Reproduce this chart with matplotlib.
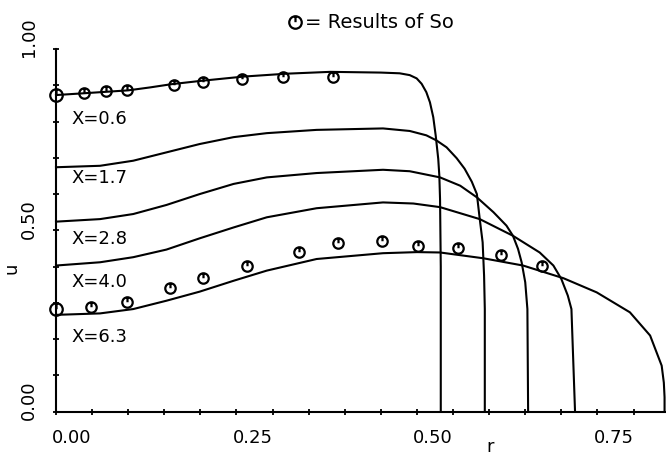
import matplotlib.pyplot as plt
from matplotlib.path import Path
import numpy as np

r_06 = [0.0, 0.039, 0.10, 0.13, 0.16, 0.20, 0.26, 0.32, 0.38, 0.45, 0.476, 0.490, 0.4996,
        0.5065, 0.513, 0.518, 0.5226, 0.526, 0.5295, 0.531, 0.532, 0.533, 0.533]
u_06 = [0.873, 0.878, 0.886, 0.894, 0.903, 0.912, 0.924, 0.932, 0.937, 0.935, 0.933, 0.928,
        0.919, 0.904, 0.881, 0.853, 0.812, 0.761, 0.697, 0.651, 0.586, 0.40, 0.0]

r_17 = [0.0, 0.061, 0.107, 0.153, 0.199, 0.246, 0.292, 0.361, 0.453, 0.490, 0.513,
        0.527, 0.541, 0.555, 0.566, 0.576, 0.583, 0.587, 0.591, 0.593, 0.594, 0.594]
u_17 = [0.674, 0.678, 0.692, 0.715, 0.738, 0.757, 0.768, 0.777, 0.781, 0.774, 0.762,
        0.748, 0.729, 0.699, 0.670, 0.634, 0.600, 0.531, 0.467, 0.375, 0.283, 0.0]

r_28 = [0.0, 0.061, 0.107, 0.153, 0.199, 0.246, 0.292, 0.361, 0.453, 0.490, 0.532, 0.560,
        0.583, 0.606, 0.624, 0.633, 0.640, 0.645, 0.650, 0.653, 0.654]
u_28 = [0.524, 0.531, 0.545, 0.570, 0.600, 0.628, 0.646, 0.658, 0.667, 0.663, 0.646, 0.623,
        0.591, 0.550, 0.513, 0.485, 0.449, 0.412, 0.357, 0.283, 0.0]

r_40 = [0.0, 0.061, 0.107, 0.153, 0.199, 0.246, 0.292, 0.361, 0.453, 0.495, 0.532, 0.587,
        0.633, 0.670, 0.689, 0.700, 0.709, 0.714, 0.719]
u_40 = [0.403, 0.412, 0.426, 0.447, 0.478, 0.508, 0.536, 0.561, 0.577, 0.574, 0.564, 0.531,
        0.485, 0.439, 0.403, 0.366, 0.320, 0.283, 0.0]

r_63 = [0.0, 0.061, 0.107, 0.153, 0.199, 0.246, 0.292, 0.361, 0.453, 0.500, 0.532, 0.592,
        0.647, 0.703, 0.749, 0.795, 0.823, 0.839, 0.842, 0.843, 0.843]
u_63 = [0.267, 0.271, 0.283, 0.306, 0.331, 0.361, 0.389, 0.421, 0.437, 0.440, 0.439, 0.423,
        0.403, 0.368, 0.329, 0.274, 0.210, 0.127, 0.08, 0.04, 0.0]

# results of So
so_r_top = [0.0, 0.039, 0.069, 0.099, 0.164, 0.204, 0.258, 0.315, 0.384]
so_u_top = [0.872, 0.878, 0.883, 0.887, 0.901, 0.908, 0.918, 0.922, 0.922]
so_r_bot = [0.0, 0.048, 0.099, 0.158, 0.204, 0.264, 0.336, 0.391, 0.451, 0.502, 0.557, 0.617, 0.673]
so_u_bot = [0.283, 0.290, 0.303, 0.340, 0.370, 0.401, 0.439, 0.465, 0.471, 0.458, 0.452, 0.432, 0.401]

curve_labels = ['X=0.6', 'X=1.7', 'X=2.8', 'X=4.0', 'X=6.3']
label_u = [0.81, 0.646, 0.479, 0.361, 0.21]

xticks = [0.0, 0.25, 0.50, 0.75]
yticks = [0.0, 0.5, 1.0]

plt.rcParams['font.family'] = 'DejaVu Sans'

# circle with a little stroke at the top, like the plotter symbol
circ = Path.unit_circle()
stroke = Path([[0, 1.0], [0, 0.05]], [Path.MOVETO, Path.LINETO])
so_marker = Path.make_compound_path(circ, stroke)

fig = plt.figure(figsize=(6.66, 4.56), dpi=100)
ax = fig.add_axes([56/666, 43.3/456, 610/666, 362.7/456])

for r, u in [(r_06, u_06), (r_17, u_17), (r_28, u_28), (r_40, u_40), (r_63, u_63)]:
    ax.plot(r, u, color='black', lw=1.5, clip_on=False, solid_joinstyle='round')

for r, u in [(so_r_top, so_u_top), (so_r_bot, so_u_bot)]:
    ax.plot(r[1:], u[1:], ls='none', marker=so_marker, ms=7.5, mfc='none',
            mec='black', mew=1.6, clip_on=False)
    ax.plot(r[:1], u[:1], ls='none', marker=so_marker, ms=9, mfc='none',
            mec='black', mew=1.6, clip_on=False, zorder=5)

for lab, u in zip(curve_labels, label_u):
    ax.text(0.021, u, lab, fontsize=13, ha='left', va='center')

ax.set_xlim(0, 0.845)
ax.set_ylim(0, 1.0)
ax.spines['top'].set_visible(False)
ax.spines['right'].set_visible(False)
ax.spines['left'].set_bounds(0, 1.0)
ax.spines['left'].set_linewidth(1.5)
ax.spines['bottom'].set_linewidth(1.5)

ax.set_xticks(np.arange(0, 0.801, 0.05), labels=[])
ax.set_yticks(np.arange(0, 1.001, 0.1), labels=[])
ax.tick_params(direction='inout', length=5, width=1.3)

for t in xticks:
    ax.annotate('%.2f' % t, xy=(t, 0), xytext=(11.5, -18), textcoords='offset points',
                ha='center', va='center', fontsize=13, annotation_clip=False)
for t in yticks:
    ax.annotate('%.2f' % t, xy=(0, t), xytext=(-19.5, 9), textcoords='offset points',
                ha='center', va='center', fontsize=13, rotation=90, annotation_clip=False)

fig.text(490/666, 1 - 447/456, 'r', fontsize=13, ha='center', va='center')
fig.text(12/666, 1 - 268/456, 'u', fontsize=13, ha='center', va='center', rotation=90)

# legend line at the top
fig.lines.append(plt.Line2D([295/666], [1 - 23/456], transform=fig.transFigure, ls='none',
                            marker=so_marker, ms=9, mfc='none', mec='black', mew=1.6))
fig.text(305/666, 1 - 23/456, '= Results of So', fontsize=14, ha='left', va='center')

fig.savefig('out.png', dpi=100)
